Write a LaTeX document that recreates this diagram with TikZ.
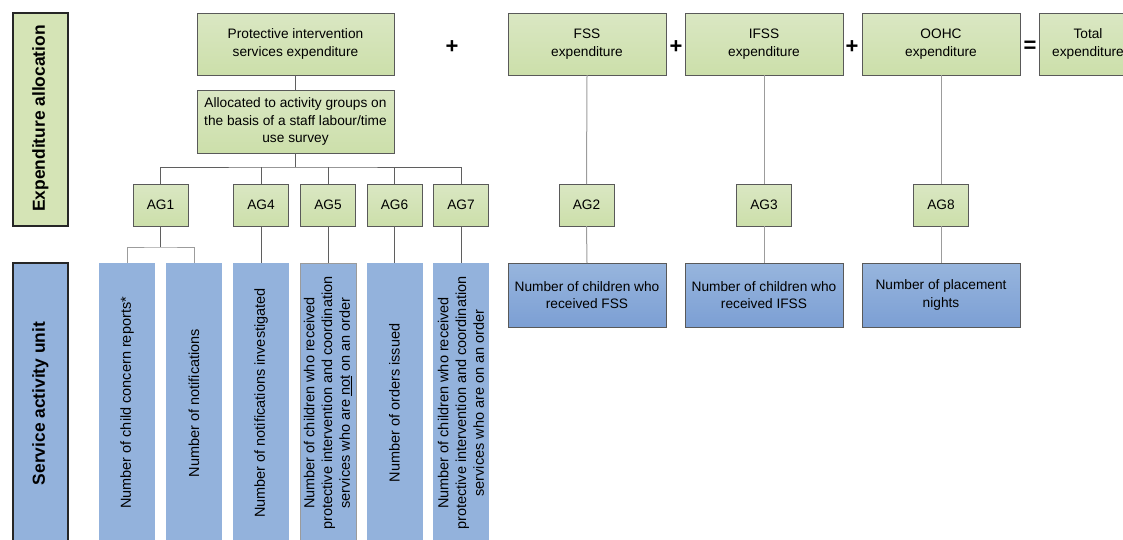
\documentclass[tikz,border=0pt]{standalone}
\usepackage{fontspec}
\setmainfont{Liberation Sans}
\definecolor{gtop}{HTML}{DAE7C3}
\definecolor{gbot}{HTML}{CCDFAA}
\definecolor{gflat}{HTML}{D5E4B6}
\definecolor{vblue}{HTML}{93B2DC}
\definecolor{btop}{HTML}{97B5DD}
\definecolor{bbot}{HTML}{7C9FD4}
\definecolor{bord}{HTML}{595959}
\definecolor{lineA}{HTML}{5F5F5F}
\definecolor{lineB}{HTML}{9C9C9C}
\newcommand{\myhf}{\fontsize{13.7}{17.5}\selectfont}
\newcommand{\myvf}{\fontsize{14.5}{17.7}\selectfont}
\newcommand{\mylf}{\fontsize{17.4}{20}\selectfont\bfseries}
\newcommand{\myop}{\fontsize{22}{22}\selectfont\bfseries}
\begin{document}
\begin{tikzpicture}[x=1pt,y=-1pt,
  gbox/.style={draw=bord, line width=0.8pt, top color=gtop, bottom color=gbot, align=center, font=\myhf, inner sep=0pt, outer sep=0pt},
  agbox/.style={gbox, minimum width=55pt, minimum height=42pt},
  topbox/.style={gbox, minimum width=158pt, minimum height=62pt},
  vbox/.style={fill=vblue, minimum width=56pt, minimum height=280pt, inner sep=0pt, outer sep=0pt},
  vtext/.style={rotate=90, align=center, font=\myvf, inner sep=0pt},
  sbox/.style={draw=bord, line width=0.8pt, top color=btop, bottom color=bbot, minimum width=158pt, minimum height=64pt, align=center, font=\myhf, inner sep=0pt, outer sep=0pt},
  lblbox/.style={draw=black!85, line width=1.2pt, minimum width=55pt, inner sep=0pt, outer sep=0pt},
  ltext/.style={rotate=90, font=\mylf, inner sep=0pt},
  op/.style={font=\myop, inner sep=0pt},
  treeA/.style={draw=lineA, line width=0.8pt},
  treeB/.style={draw=lineB, line width=1pt}]
\useasboundingbox (0,0) rectangle (1123,539);
\clip (0,0) rectangle (1123,539);
% side labels
\node[lblbox, fill=gflat, minimum height=213pt] (ea) at (40.5,119.5) {};
\node[ltext] (eat) at (40.5,118.5) {Expenditure allocation};
\node[lblbox, fill=vblue, minimum height=284pt] (sa) at (40.5,405) {};
\node[ltext] (sat) at (40.5,403.5) {Service activity unit};
% top row
\node[gbox, minimum width=197pt, minimum height=62pt] (pis) at (295.5,44) {Protective intervention\\services expenditure};
\node[gbox, minimum width=197pt, minimum height=63pt] (alloc) at (295.5,121.5) {Allocated to activity groups on\\the basis of a staff labour/time\\use survey};
\node[op] (p1) at (452,47) {+};
\node[topbox] (fss) at (587,44) {FSS\\expenditure};
\node[op] (p2) at (676,47) {+};
\node[topbox] (ifss) at (764,44) {IFSS\\expenditure};
\node[op] (p3) at (852,47) {+};
\node[topbox] (oohc) at (941,44) {OOHC\\expenditure};
\node[op] (eq) at (1030,47) {=};
\node[topbox, minimum width=98pt] (tot) at (1088,44) {Total\\expenditure};
% activity groups
\node[agbox] (ag1) at (160.5,205) {AG1};
\node[agbox] (ag4) at (261,205) {AG4};
\node[agbox] (ag5) at (328,205) {AG5};
\node[agbox] (ag6) at (394.5,205) {AG6};
\node[agbox] (ag7) at (461,205) {AG7};
\node[agbox] (ag2) at (586.5,205) {AG2};
\node[agbox] (ag3) at (764,205) {AG3};
\node[agbox] (ag8) at (941,205) {AG8};
% vertical service units
\node[vbox] (b1) at (127,403) {};
\node[vtext] (t1) at (b1.center) {Number of child concern reports*};
\node[vbox] (b2) at (194,403) {};
\node[vtext] (t2) at (b2.center) {Number of notifications};
\node[vbox] (b3) at (261,403) {};
\node[vtext] (t3) at (b3.center) {Number of notifications investigated};
\node[vbox, draw=bord!60, line width=0.6pt] (b4) at (328,403) {};
\node[vtext] (t4) at (b4.center) {Number of children who received\\protective intervention and coordination\\services who are \underline{not} on an order};
\node[vbox] (b5) at (394.5,403) {};
\node[vtext] (t5) at (b5.center) {Number of orders issued};
\node[vbox] (b6) at (461,403) {};
\node[vtext] (t6) at (b6.center) {Number of children who received\\protective intervention and coordination\\services who are on an order};
% right service units
\node[sbox] (sfss) at (587,295) {Number of children who\\received FSS};
\node[sbox] (sifss) at (764,295) {Number of children who\\received IFSS};
\node[sbox] (soohc) at (941,295) {Number of placement\\nights};
% connectors
\coordinate (bus) at (295.5,167);
\coordinate (split) at (160.5,247);
\draw[treeA] (pis.south) -- (alloc.north);
\draw[treeA] (alloc.south) -- (bus);
\draw[treeA] (ag1.north) |- (bus) -| (ag7.north);
\foreach \n in {ag4,ag5,ag6} \draw[treeA] (\n.north) -- (\n.north |- bus);
\draw[treeA] (ag1.south) -- (split);
\draw[treeB] (b1.north) |- (split) -| (b2.north);
\draw[treeA] (ag4.south) -- (b3.north);
\draw[treeA] (ag5.south) -- (b4.north);
\draw[treeA] (ag6.south) -- (b5.north);
\draw[treeA] (ag7.south) -- (b6.north);
\draw[treeB] (fss.south) -- (ag2.north);
\draw[treeB] (ag2.south) -- (sfss.north);
\draw[treeB] (ifss.south) -- (ag3.north);
\draw[treeB] (ag3.south) -- (sifss.north);
\draw[treeB] (oohc.south) -- (ag8.north);
\draw[treeB] (ag8.south) -- (soohc.north);
\end{tikzpicture}
\end{document}
